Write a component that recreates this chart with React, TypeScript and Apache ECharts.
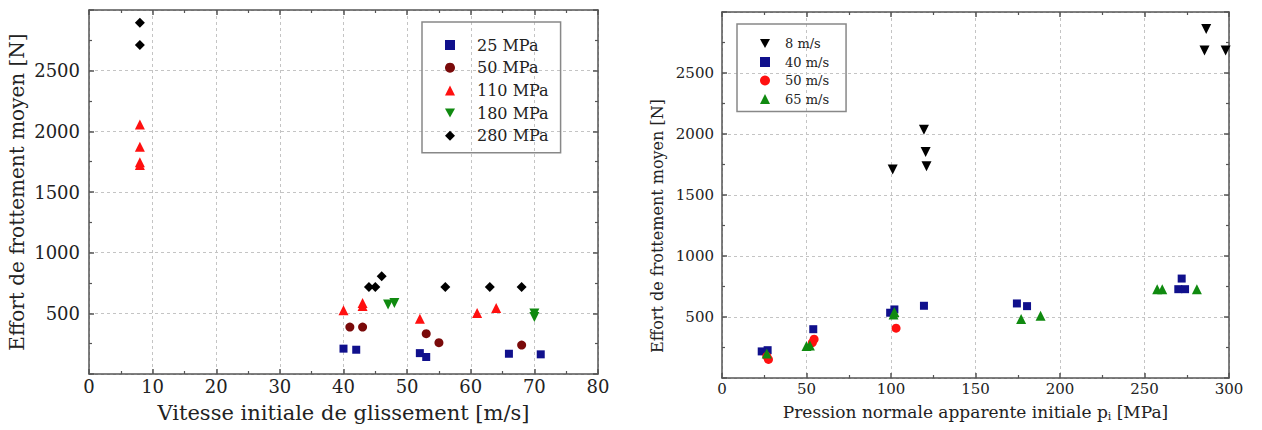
import React, { useEffect, useRef } from "react";
import * as echarts from "echarts";

// Left chart: velocity [m/s] vs mean friction force [N], by pressure
const p25: number[][] = [[40, 209], [42, 200], [52, 172], [53, 140], [66, 167], [71, 162]];
const p50: number[][] = [[41, 387], [43, 387], [53, 332], [55, 258], [68, 238]];
const p110: number[][] = [[8, 2057], [8, 1872], [8, 1745], [8, 1722], [40, 525], [43, 585], [43, 560], [52, 456], [61, 503], [64, 544]];
const p180: number[][] = [[47, 572], [48, 585], [70, 470], [70, 498]];
const p280: number[][] = [[8, 2895], [8, 2711], [44, 717], [45, 717], [46, 805], [56, 717], [63, 717], [68, 717]];

// Right chart: pressure [MPa] vs mean friction force [N], by velocity
const v8: number[][] = [[101, 1709], [119.5, 2034], [120.5, 1852], [121, 1736], [286.5, 2860], [285.5, 2685], [298, 2685]];
const v40: number[][] = [[23.5, 218], [27, 228], [54, 400], [99.5, 535], [102, 562], [119.5, 592], [174.5, 611], [180.5, 589], [270, 728], [274, 728], [272, 815]];
const v50: number[][] = [[27.5, 152], [26.5, 178], [53.5, 290], [54.5, 318], [103, 408]];
const v65: number[][] = [[26.5, 200], [50, 262], [52, 266], [102, 540], [101.5, 520], [177, 484], [188.5, 511], [257.5, 728], [260.5, 728], [281, 728]];

const leftNames = ["25 MPa", "50 MPa", "110 MPa", "180 MPa", "280 MPa"];
const rightNames = ["8 m/s", "40 m/s", "50 m/s", "65 m/s"];

const FONT = "DejaVu Serif";
const DOWN = "path://M0,0L10,0L5,9Z";

function axisBase(min: number, max: number, interval: number, showLabels: boolean, fontSize: number, hide: number[], margin: number) {
  return {
    type: "value",
    min,
    max,
    interval,
    axisLine: { show: true, onZero: false, lineStyle: { color: "#555", width: 1.5 } },
    axisTick: { show: true, inside: true, length: 5, lineStyle: { color: "#555", width: 1.5 } },
    minorTick: { show: true, splitNumber: 2, length: 3, lineStyle: { color: "#555", width: 1.2 } },
    splitLine: { show: showLabels, lineStyle: { color: "#c4c4c4", type: [3, 3], width: 1 } },
    axisLabel: {
      show: showLabels,
      fontFamily: FONT,
      fontSize,
      color: "#222",
      margin,
      formatter: (v: number) => (hide.indexOf(v) >= 0 ? "" : String(v)),
    },
  };
}

export default function App() {
  const ref = useRef<HTMLDivElement>(null);
  useEffect(() => {
    if (!ref.current) return;
    const chart = echarts.init(ref.current, null, { renderer: "svg" });
    const mk = (name: string, data: number[][], symbol: string, color: string, xi: number, size = 8) => ({
      name,
      type: "scatter",
      xAxisIndex: xi,
      yAxisIndex: xi,
      data,
      symbol,
      symbolSize: size,
      itemStyle: { color, opacity: 1 },
    });
    chart.setOption({
      animation: false,
      backgroundColor: "#fff",
      grid: [
        { left: 89, top: 10, width: 509, height: 364 },
        { left: 722, top: 12, width: 507, height: 366 },
      ],
      xAxis: [
        { ...axisBase(0, 80, 10, true, 18, [], 3), gridIndex: 0, position: "bottom",
          name: "Vitesse initiale de glissement [m/s]", nameLocation: "middle", nameGap: 28,
          nameTextStyle: { fontFamily: FONT, fontSize: 21, color: "#222" } },
        { ...axisBase(0, 80, 10, false, 18, [], 3), gridIndex: 0, position: "top" },
        { ...axisBase(0, 300, 50, true, 15, [], 3), gridIndex: 1, position: "bottom",
          name: "Pression normale apparente initiale p{sub|i} [MPa]", nameLocation: "middle", nameGap: 24,
          nameTextStyle: { fontFamily: FONT, fontSize: 17, color: "#222",
            rich: { sub: { fontFamily: FONT, fontSize: 11, color: "#222", verticalAlign: "bottom", padding: [9, 0, 0, 0] } } } },
        { ...axisBase(0, 300, 50, false, 15, [], 3), gridIndex: 1, position: "top" },
      ],
      yAxis: [
        { ...axisBase(0, 3000, 500, true, 18, [0, 3000], 9), gridIndex: 0, position: "left",
          name: "Effort de frottement moyen [N]", nameLocation: "middle", nameGap: 62,
          nameTextStyle: { fontFamily: FONT, fontSize: 20, color: "#222" } },
        { ...axisBase(0, 3000, 500, false, 18, [], 9), gridIndex: 0, position: "right" },
        { ...axisBase(0, 3000, 500, true, 15, [0, 3000], 8), gridIndex: 1, position: "left" },
        { ...axisBase(0, 3000, 500, false, 15, [], 8), gridIndex: 1, position: "right" },
      ],
      graphic: [
        {
          type: "text",
          x: 657,
          y: 226,
          rotation: Math.PI / 2,
          style: {
            text: "Effort de frottement moyen [N]",
            fontFamily: FONT,
            fontSize: 16,
            fill: "#222",
            align: "center",
            verticalAlign: "middle",
          },
        },
      ],
      legend: [
        {
          data: leftNames,
          orient: "vertical",
          left: 422,
          top: 22,
          padding: [15, 12, 9, 23],
          itemWidth: 10,
          itemHeight: 10,
          itemGap: 6.7,
          borderColor: "#888",
          borderWidth: 1.5,
          borderRadius: 0,
          textStyle: { fontFamily: FONT, fontSize: 16, color: "#222", padding: [0, 0, 0, 17] },
        },
        {
          data: rightNames,
          orient: "vertical",
          left: 737,
          top: 24,
          padding: [13, 17, 6, 23],
          itemWidth: 10,
          itemHeight: 10,
          itemGap: 5.5,
          borderColor: "#888",
          borderWidth: 1.5,
          borderRadius: 0,
          textStyle: { fontFamily: FONT, fontSize: 13, color: "#222", padding: [0, 0, 0, 10] },
        },
      ],
      series: [
        mk("25 MPa", p25, "rect", "#10108c", 0, 8),
        mk("50 MPa", p50, "circle", "#7a0a0a", 0, 9),
        mk("110 MPa", p110, "triangle", "#ff1010", 0, 10),
        mk("180 MPa", p180, DOWN, "#108a10", 0, 10),
        mk("280 MPa", p280, "diamond", "#000000", 0, 10),
        mk("8 m/s", v8, DOWN, "#000000", 2, 10),
        mk("40 m/s", v40, "rect", "#10108c", 2, 8),
        mk("50 m/s", v50, "circle", "#ff1010", 2, 9),
        mk("65 m/s", v65, "triangle", "#108a10", 2, 10),
      ],
    });
    return () => chart.dispose();
  }, []);
  return <div ref={ref} style={{ position: "absolute", left: 0, top: 0, width: 1262, height: 430 }} />;
}
